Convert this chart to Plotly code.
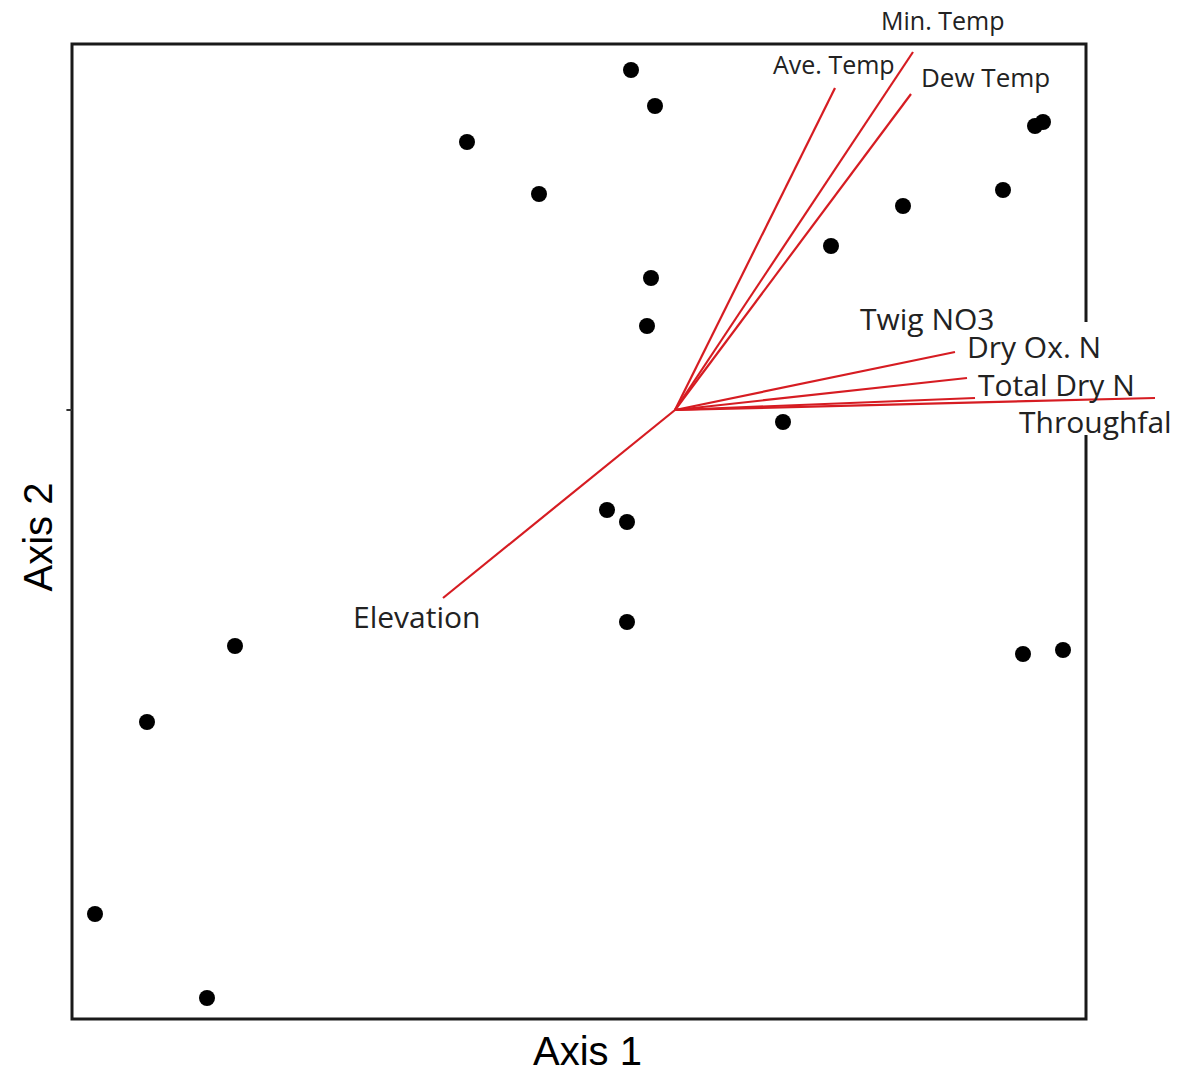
import plotly.graph_objects as go

# Site scores (ordination axes)
site_x = [-0.11, -0.05, -0.52, -0.34, 0.90, 0.92, 0.82, 0.57, 0.39, -0.06, -0.07,
          0.27, -0.17, -0.12, -0.12, -1.10, 0.87, 0.97, -1.32, -1.45, -1.17]
site_y = [0.85, 0.76, 0.67, 0.54, 0.71, 0.72, 0.55, 0.51, 0.41, 0.33, 0.21,
          -0.03, -0.25, -0.28, -0.53, -0.59, -0.61, -0.60, -0.78, -1.26, -1.47]

# Environmental vectors (biplot arrows from origin)
vec_names = ["Ave. Temp", "Min. Temp", "Dew Temp", "Dry Ox. N", "Total Dry N",
             "Twig NO3", "Throughfal", "Elevation"]
vec_x = [0.40, 0.595, 0.59, 0.70, 0.73, 0.75, 1.20, -0.58]
vec_y = [0.805, 0.895, 0.79, 0.145, 0.08, 0.03, 0.03, -0.47]

# Plot frame extents (axis units)
frame_x = [-1.5075, 1.0275]
frame_y = [-1.5225, 0.915]
# part of right frame edge hidden behind labels
frame_gap_y = [-0.0625, 0.22]

# label offsets in px (xshift, yshift) and font sizes
label_off = [(-1, 24), (29, 32), (74, 17), (79, 6), (89, -6), (-48, 80), (-60, -23), (-27, -18)]
label_size = [25, 25, 26, 30, 30, 30, 30, 30]

RED = "rgb(214,28,34)"

fig = go.Figure()

# border frame
fig.add_shape(type="rect", xref="x", yref="y",
              x0=frame_x[0], x1=frame_x[1], y0=frame_y[0], y1=frame_y[1],
              line=dict(color="#1a1a1a", width=3), layer="below")
fig.add_shape(type="rect", xref="x", yref="y",
              x0=frame_x[1] - 0.02, x1=frame_x[1] + 0.02,
              y0=frame_gap_y[0], y1=frame_gap_y[1],
              line=dict(width=0), fillcolor="white", layer="below")
# single y tick at 0
fig.add_shape(type="line", xref="x", yref="y",
              x0=frame_x[0] - 0.014, x1=frame_x[0], y0=0, y1=0,
              line=dict(color="#333333", width=2), layer="below")

for nx, ny in zip(vec_x, vec_y):
    fig.add_trace(go.Scatter(x=[0, nx], y=[0, ny], mode="lines",
                             line=dict(color=RED, width=2.2),
                             hoverinfo="skip", showlegend=False))

fig.add_trace(go.Scatter(x=site_x, y=site_y, mode="markers",
                         marker=dict(color="black", size=16),
                         hoverinfo="skip", showlegend=False))

for name, nx, ny, (dx, dy), fs in zip(vec_names, vec_x, vec_y, label_off, label_size):
    fig.add_annotation(x=nx, y=ny, xref="x", yref="y", text=name, showarrow=False,
                       xshift=dx, yshift=dy, xanchor="center", yanchor="middle",
                       font=dict(family="Open Sans", size=fs, color="#222222"))

# axis titles
fig.add_annotation(x=(frame_x[0] + frame_x[1]) / 2, y=0, xref="x", yref="paper",
                   text="Axis 1", showarrow=False, yanchor="middle", yshift=-23,
                   xshift=8,
                   font=dict(family="Liberation Sans, Arial", size=40, color="black"))
fig.add_annotation(x=0, y=(frame_y[0] + frame_y[1]) / 2, xref="paper", yref="y",
                   text="Axis 2", showarrow=False, textangle=-90, xanchor="center",
                   xshift=-26, yshift=-6,
                   font=dict(family="Liberation Sans, Arial", size=40, color="black"))

fig.update_xaxes(range=[-1.53, 1.21], visible=False, fixedrange=True)
fig.update_yaxes(range=[-1.545, 0.94], visible=False, fixedrange=True)

fig.update_layout(width=1194, height=1075,
                  margin=dict(l=63, r=35, t=34, b=47),
                  plot_bgcolor="white", paper_bgcolor="white",
                  showlegend=False)

fig.write_html("out.html", config={"displayModeBar": False},
               post_script="document.body.style.margin='0';")
